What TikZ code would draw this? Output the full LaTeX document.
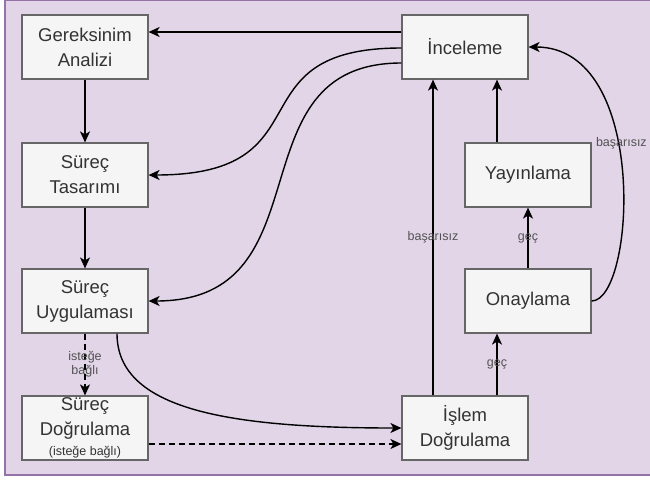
\documentclass[tikz,border=0pt]{standalone}
\usepackage{fontspec}
\setmainfont{Liberation Sans}
\usetikzlibrary{arrows.meta}
\definecolor{bgfill}{HTML}{E1D5E7}
\definecolor{bgline}{HTML}{9673A6}
\definecolor{boxfill}{HTML}{F5F5F5}
\definecolor{boxline}{HTML}{666666}
\definecolor{boxtext}{HTML}{333333}
\begin{document}
\begin{tikzpicture}[x=1pt, y=-1pt,
    box/.style={rectangle, draw=boxline, fill=boxfill, line width=1.2pt, minimum width=126pt, minimum height=64pt, inner sep=0pt, align=center, text=boxtext, font=\fontsize{18.5}{25}\selectfont},
    lbl/.style={text=boxtext!85, font=\fontsize{12.5}{14}\selectfont, align=center, inner sep=0pt},
    arr/.style={-{Stealth[length=11pt, width=10pt, inset=3pt]}, line width=1.4pt},
    dash6/.style={dash pattern=on 6pt off 4pt}]
    % Background panel
    \useasboundingbox (0,0) rectangle (650,482);
    \draw[fill=bgfill, draw=bgline, line width=1.5pt] (5,0.5) rectangle (662,475);

    % Left column
    \node[box] (ga) at (85,47) {Gereksinim\\Analizi};
    \node[box] (st) at (85,175) {Süreç\\Tasarımı};
    \node[box] (su) at (85,301) {Süreç\\Uygulaması};
    \node[box] (sd) at (85,428) {Süreç\\Doğrulama\\[-5pt]{\fontsize{12.5}{14}\selectfont (isteğe bağlı)}};

    % Right side
    \node[box] (inc) at (465,47) {İnceleme};
    \node[box] (yay) at (528,175) {Yayınlama};
    \node[box] (ony) at (528,301) {Onaylama};
    \node[box] (isl) at (465,428) {İşlem\\Doğrulama};

    % Main flow
    \draw[arr] (ga) -- (st);
    \draw[arr] (st) -- (su);
    \draw[arr, dash6] (su) -- (sd) node[lbl, midway] {isteğe\\bağlı};
    \draw[arr] ([xshift=32pt]su.south) .. controls (117,410) and (230,428) .. (isl.west);
    \draw[arr, dash6] ([yshift=-16pt]sd.east) -- ([yshift=-16pt]isl.west);

    % Back to review
    \draw[arr] ([yshift=15pt]inc.west) -- ([yshift=15pt]ga.east);
    \draw[arr] ([yshift=-1pt]inc.west) .. controls (230,48) and (330,175) .. (st.east);
    \draw[arr] ([yshift=-16pt]inc.west) .. controls (230,63) and (330,301) .. (su.east);

    % Release path
    \draw[arr] ([xshift=-32pt]isl.north) -- ([xshift=-32pt]inc.south) node[lbl, midway] {başarısız};
    \draw[arr] ([xshift=32pt]isl.north) -- ([xshift=32pt]isl.north |- ony.south) node[lbl, midway] {geç};
    \draw[arr] (ony) -- (yay) node[lbl, midway] {geç};
    \draw[arr] ([xshift=-31pt]yay.north) -- ([xshift=-31pt]yay.north |- inc.south);
    \draw[arr] (ony.east) .. controls (635,301) and (650,47) .. (inc.east) node[lbl, pos=0.58, xshift=4pt] {başarısız};
\end{tikzpicture}
\end{document}
